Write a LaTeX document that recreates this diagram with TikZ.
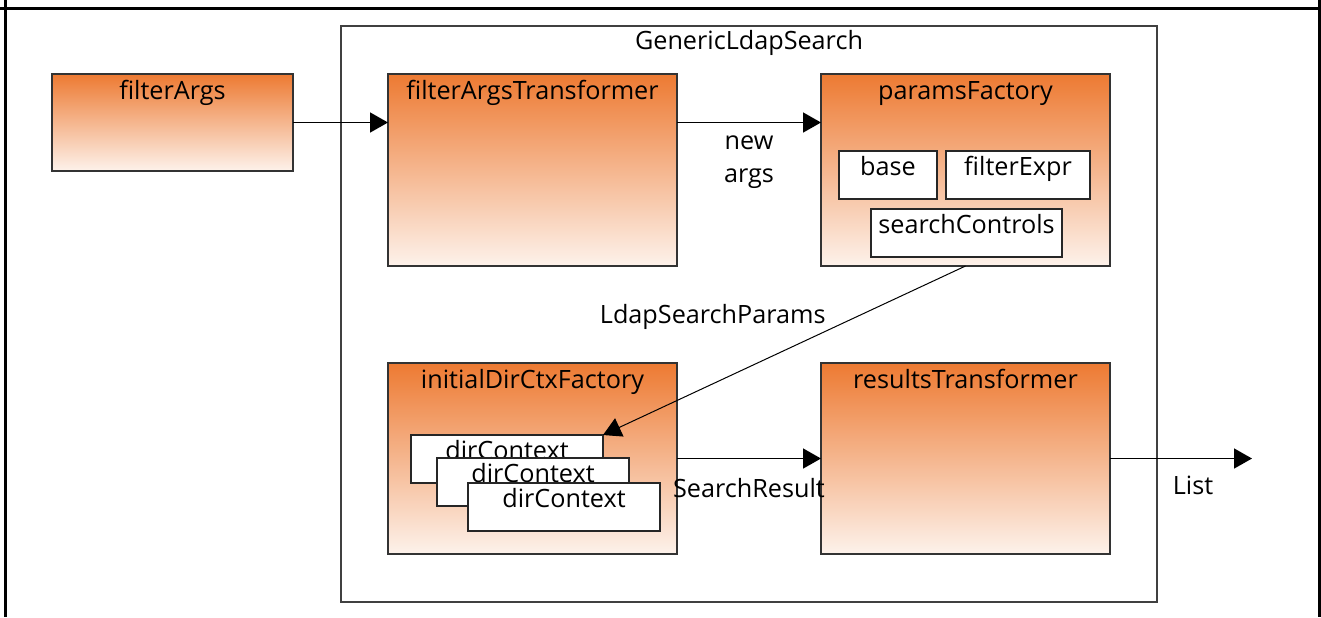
\documentclass[tikz,border=0pt]{standalone}
\usepackage{fontspec}
\setmainfont{Open Sans}
\usetikzlibrary{arrows.meta, positioning}
\definecolor{boxtop}{RGB}{237,122,50}
\definecolor{boxbottom}{RGB}{253,242,235}
\begin{document}
\begin{tikzpicture}[x=0.5pt, y=-0.5pt, font=\fontsize{12.6}{16.5}\selectfont, >={Triangle[length=9pt,width=10pt]}]
    % Define styles
    \tikzset{
        frame/.style={rectangle, draw=black!75, line width=1pt, minimum width=408pt, text height=9pt, inner ysep=2.5pt, text depth=274pt},
        comp/.style={rectangle, draw=black!80, line width=1pt, outer sep=0pt, top color=boxtop, bottom color=boxbottom, minimum width=144.5pt, text height=9pt, inner ysep=3.5pt},
        part/.style={rectangle, draw=black!85, line width=1pt, outer sep=0pt, fill=white, text height=9pt, inner ysep=3.25pt, text depth=8.5pt},
        flow/.style={->, line width=0.8pt},
        param/.style={->, line width=0.5pt}
    }
    \useasboundingbox (0,0) rectangle (1321,617);

    % Page frame
    \draw[line width=1.5pt] (0,8) -- (1321,8);
    \draw[line width=1.5pt] (5.5,0) -- (5.5,617);
    \draw[line width=1.5pt] (1319.5,0) -- (1319.5,617);

    % Nodes
    \node[frame] (gls) at (749,314) {GenericLdapSearch};

    \node[comp, text depth=80pt] (fat) at (532.5,170) {filterArgsTransformer};
    \node[comp, text depth=80pt, right=72pt of fat] (pf) {paramsFactory};
    \node[comp, text depth=79.5pt, below=48.5pt of fat] (idcf) {initialDirCtxFactory};
    \node[comp, text depth=79.5pt, right=72pt of idcf] (rt) {resultsTransformer};
    \node[comp, minimum width=120.5pt, text depth=32.5pt, left=47.5pt of fat.north west, anchor=north east] (fa) {filterArgs};

    \node[part, minimum width=49pt, below right=38.5pt and 9pt of pf.north west] (base) {base};
    \node[part, minimum width=72pt, right=4.5pt of base] (fexpr) {filterExpr};
    \node[part, minimum width=95.5pt, below right=5pt and 16pt of base.south west] (sc) {searchControls};

    \node[part, minimum width=96pt, below right=36pt and 11.5pt of idcf.north west] (dc1) {dirContext};
    \node[part, minimum width=96pt, below right=11.5pt and 13pt of dc1.north west] (dc2) {dirContext};
    \node[part, minimum width=96pt, below right=12.5pt and 15.5pt of dc2.north west] (dc3) {dirContext};

    \coordinate[right=71pt of rt.east] (out);

    % Arrows
    \draw[flow] (fa.east) -- (fa.east -| fat.west);
    \draw[flow] (fa.east -| fat.east) -- (fa.east -| pf.west)
        node[midway, below=3pt, align=center] (newargs) {new\\args};
    \draw[param] (pf.south) -- (dc1.north east)
        node[pos=0.3, left=12pt] (lsp) {LdapSearchParams};
    \draw[flow] (idcf.east) -- (rt.west)
        node[midway, below=6pt] (sr) {SearchResult};
    \draw[flow] (rt.east) -- (out)
        node[midway, below=5pt, xshift=6pt] (lst) {List};
\end{tikzpicture}
\end{document}
